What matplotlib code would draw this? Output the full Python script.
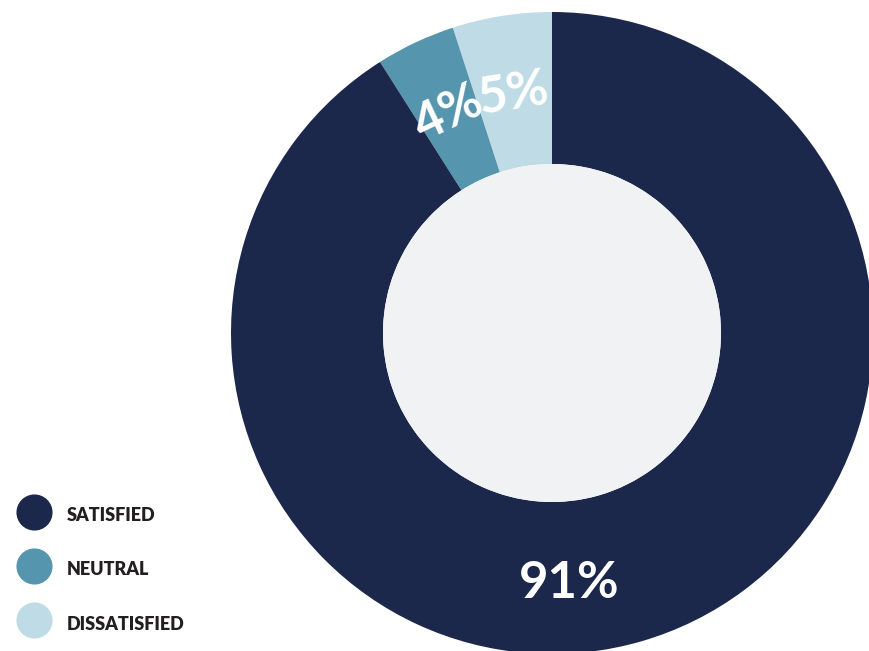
import numpy as np
import matplotlib.pyplot as plt
from matplotlib.lines import Line2D
from matplotlib.patches import Circle

#- Data (pie goes counterclockwise from 12 o'clock):

categories = ["DISSATISFIED", "NEUTRAL", "SATISFIED"]
shares = [5, 4, 91]
labels = ["5%", "4%", "91%"]
colors = ["#bfdbe6", "#5595ad", "#1b274b"]

legend_order = ["SATISFIED", "NEUTRAL", "DISSATISFIED"]

#- Layout (axes in pixel units, y up):

W, H = 870, 651
cx, cy = 552, 651 - 333
r_out, r_in = 321, 169
font = "Lato"

fig = plt.figure(figsize=(W / 100, H / 100), dpi=100)
ax = fig.add_axes([0, 0, 1, 1])
ax.set_xlim(0, W)
ax.set_ylim(0, H)
ax.set_aspect("equal")
ax.axis("off")

wedges, _ = ax.pie(shares, colors=colors, startangle=90, counterclock=True,
                   center=(cx, cy), radius=r_out,
                   wedgeprops=dict(width=r_out - r_in, linewidth=0))
ax.add_patch(Circle((cx, cy), r_in, facecolor="#f0f2f4", edgecolor="none"))
ax.set_xlim(0, W)
ax.set_ylim(0, H)

#- Percent labels, set along the ring

start = 90.0
for i, (s, lab) in enumerate(zip(shares, labels)):
    mid = start + 360 * s / 100 / 2
    start += 360 * s / 100
    if s > 50:
        ang, rot, rr = 274.0, 0.0, 251
    else:
        ang, rot, rr = mid, mid - 90, 242
    x = cx + rr * np.cos(np.radians(ang))
    y = cy + rr * np.sin(np.radians(ang))
    ax.text(x, y, lab, color="white", fontsize=36.5, fontweight="bold",
            family=font, rotation=rot, ha="center", va="center",
            rotation_mode="anchor")

#- Legend

handles = []
for name in legend_order:
    c = colors[categories.index(name)]
    handles.append(Line2D([], [], marker="o", linestyle="none",
                          markersize=26, markerfacecolor=c,
                          markeredgewidth=0))
leg = ax.legend(handles, legend_order, loc="lower left",
                bbox_to_anchor=(18 / W, 6 / H), frameon=False,
                prop=dict(family=font, weight="heavy", size=13),
                handlelength=1.0, handleheight=2.0, handletextpad=1.3,
                labelspacing=1.45, borderaxespad=0.0)
for t in leg.get_texts():
    t.set_color("#231f20")

fig.savefig("out.png", dpi=100)
